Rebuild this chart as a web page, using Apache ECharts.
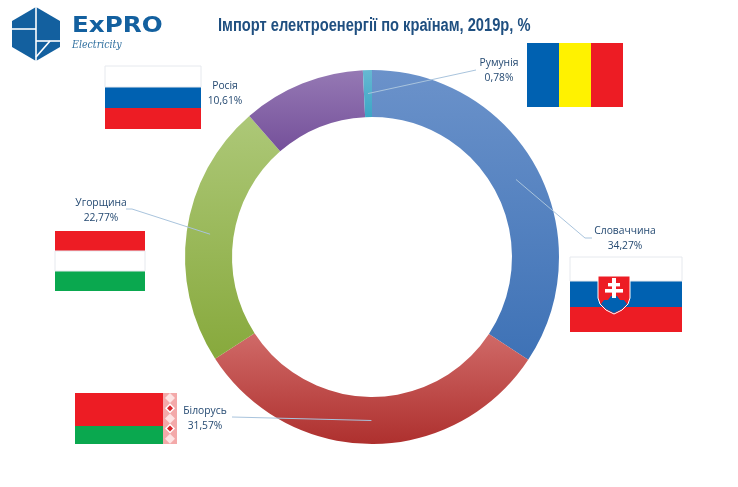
<!DOCTYPE html>
<html>
<head>
<meta charset="utf-8">
<style>
html,body{margin:0;padding:0;background:#fff;}
#box01{width:738px;height:487px;}
</style>
<script src="https://cdn.jsdelivr.net/npm/echarts@6/dist/echarts.min.js"></script>
</head>
<body>
<div id="box01"></div>
<script>
var countries = ['Словаччина','Білорусь','Угорщина','Росія','Румунія'];
var shares = [34.27,31.57,22.77,10.61,0.78];
var chartTitle = 'Імпорт електроенергії по країнам, 2019р, %';

var cx = 372, cy = 257, rOuter = 187, rInner = 140;
var sliceColors = [
    ['#6b92ca','#3e72b6'],
    ['#d06a68','#ae302e'],
    ['#adc878','#87a93c'],
    ['#9579b4','#75509a'],
    ['#66b8d2','#3ca6c5']
];
//label centre and where its leader line ends
var labelPos = {
    'Словаччина':{x:625,y:239,line:[[585,238],[592,238]]},
    'Білорусь':{x:205,y:419,line:[[232,417]]},
    'Угорщина':{x:101,y:211,line:[[132,209],[126,209]]},
    'Росія':{x:225,y:94,line:null},
    'Румунія':{x:499,y:71,line:[[476,70]]}
};

function grad(c) {
    return new echarts.graphic.LinearGradient(0,0,0,1,[{offset:0,color:c[0]},{offset:1,color:c[1]}]);
}
function rect(x,y,w,h,fill,z) {
    return {type:'rect',z:z || 50,shape:{x:x,y:y,width:w,height:h},style:{fill:fill}};
}
function poly(points,fill,z) {
    return {type:'polygon',z:z || 50,shape:{points:points},style:{fill:fill}};
}
function seg(x1,y1,x2,y2,color,w) {
    return {type:'line',z:51,shape:{x1:x1,y1:y1,x2:x2,y2:y2},style:{stroke:color,lineWidth:w}};
}
function hFlag(x,y,w,colors,hs) {
    var out = [], yy = y;
    for (var i = 0; i < colors.length; i++) {
        out.push(rect(x,yy,w,hs[i],colors[i]));
        if (colors[i] == '#ffffff') {
            out.push({type:'rect',z:51,shape:{x:x,y:yy,width:w,height:hs[i]},style:{fill:'none',stroke:'#e6e9ee',lineWidth:1}});
        }
        yy += hs[i];
    }
    return out;
}

function leaderLines() {
    var out = [], acc = 0, total = 0, i;
    for (i = 0; i < shares.length; i++) total += shares[i];
    for (i = 0; i < shares.length; i++) {
        var mid = (acc + shares[i] / 2) / total * Math.PI * 2;
        acc += shares[i];
        var p = labelPos[countries[i]];
        if (!p.line) continue;
        var r = (rOuter + rInner) / 2;
        var pts = [[cx + r * Math.sin(mid), cy - r * Math.cos(mid)]].concat(p.line);
        out.push({type:'polyline',z:60,shape:{points:pts},style:{stroke:'#a9c4dd',lineWidth:1,fill:null}});
    }
    return out;
}

function flags() {
    var red = '#ed1c24', blue = '#0061b1', green = '#0aa84f', g = [];
    //Росія
    g = g.concat(hFlag(105,66,96,['#ffffff',blue,red],[21,21,21]));
    //Румунія
    g.push(rect(527,43,32,64,blue),rect(559,43,32,64,'#fff200'),rect(591,43,32,64,red));
    //Угорщина
    g = g.concat(hFlag(55,231,90,[red,'#ffffff',green],[20,20,20]));
    //Словаччина
    g = g.concat(hFlag(570,257,112,['#ffffff',blue,red],[24,26,25]));
    g.push({type:'polygon',z:52,shape:{points:[[598,276],[630,276],[630,298],[628,304],[622,310],[614,314],[606,310],[600,304],[598,298]]},style:{fill:red,stroke:'#ffffff',lineWidth:1}});
    g.push(poly([[601,304],[604,300],[608,300],[611,296],[617,296],[620,300],[624,300],[627,304],[622,309],[614,313],[606,309]],blue,53));
    g.push(rect(612,278,4,20,'#ffffff',54),rect(608,283,12,3.4,'#ffffff',54),rect(605,289,18,3.6,'#ffffff',54));
    //Білорусь
    g.push(rect(75,393,88,33,red),rect(75,426,88,18,green),rect(163,393,14,51,'#f3a9a9'));
    for (var i = 0; i < 5; i++) {
        var dy = 398 + i * 10.2;
        g.push(poly([[170,dy-5],[175,dy],[170,dy+5],[165,dy]], (i == 1 || i == 3) ? '#ffffff' : '#fde3e3',51));
        if (i == 1 || i == 3) g.push(poly([[170,dy-3],[173,dy],[170,dy+3],[167,dy]],'#d8232a',52));
    }
    return g;
}

function logo() {
    var c = '#13609f';
    return [
        poly([[36,7],[60,21],[60,47],[36,61],[12,47],[12,21]],c),
        seg(36,7,36,61,'#ffffff',1.6),
        seg(12,29,36,29,'#ffffff',1.6),
        seg(36,41,60,41,'#ffffff',1.6),
        seg(36,57,50,41,'#ffffff',1.6),
        {type:'text',z:52,x:72,y:15,scaleX:1.12,style:{x:0,y:0,text:'ExPRO',fill:c,font:'bold 22px "DejaVu Sans"'}},
        {type:'text',z:52,x:72,y:40,scaleX:0.86,style:{x:0,y:0,text:'Electricity',fill:'#2f6f9f',font:'italic 11px "DejaVu Serif"'}}
    ];
}

function titleText() {
    return {type:'text',z:52,x:218,y:17,scaleX:0.815,style:{x:0,y:0,text:chartTitle,fill:'#1f4f80',font:'bold 18px "Liberation Sans"'}};
}

var myChart = echarts.init(document.getElementById('box01'));

var pieData = [];
for (var i = 0; i < countries.length; i++) {
    pieData.push({name:countries[i],value:shares[i],itemStyle:{color:grad(sliceColors[i])}});
}

var option = {
    backgroundColor:'#ffffff',
    animation:false,
    series:[{
        type:'pie',
        center:[cx,cy],
        radius:[rInner,rOuter],
        startAngle:90,
        clockwise:true,
        data:pieData,
        emphasis:{disabled:true},
        itemStyle:{borderWidth:0},
        label:{
            show:true,
            position:'outside',
            color:'#254a72',
            fontFamily:'"Open Sans"',
            fontSize:10.3,
            lineHeight:15,
            align:'center',
            verticalAlign:'middle',
            formatter:function (p) {
                return p.name + '\n' + p.value.toFixed(2).replace('.',',') + '%';
            }
        },
        labelLine:{show:false},
        labelLayout:function (p) {
            var lp = labelPos[countries[p.dataIndex]];
            return {x:lp.x,y:lp.y,align:'center',verticalAlign:'middle'};
        }
    }],
    graphic:{elements:[].concat(flags(),logo(),[titleText()],leaderLines())}
};
myChart.setOption(option);
</script>
</body>
</html>
